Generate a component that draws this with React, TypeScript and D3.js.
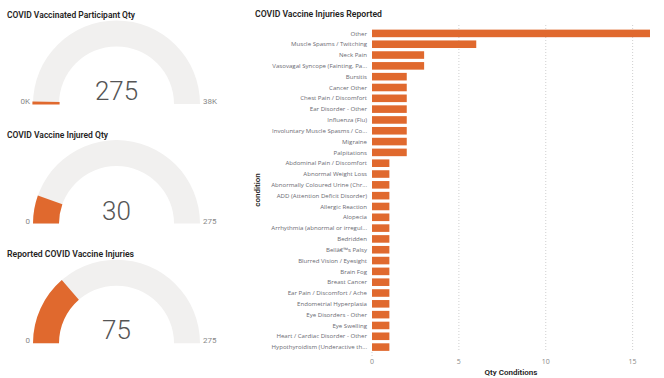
import React from "react";
import * as d3 from "d3";

const categories = [
  "Other",
  "Muscle Spasms / Twitching",
  "Neck Pain",
  "Vasovagal Syncope (Fainting, Pa...",
  "Bursitis",
  "Cancer Other",
  "Chest Pain / Discomfort",
  "Ear Disorder - Other",
  "Influenza (Flu)",
  "Involuntary Muscle Spasms / Co...",
  "Migraine",
  "Palpitations",
  "Abdominal Pain / Discomfort",
  "Abnormal Weight Loss",
  "Abnormally Coloured Urine (Chr...",
  "ADD (Attention Deficit Disorder)",
  "Allergic Reaction",
  "Alopecia",
  "Arrhythmia (abnormal or irregul...",
  "Bedridden",
  "Bellâ€™s Palsy",
  "Blurred Vision / Eyesight",
  "Brain Fog",
  "Breast Cancer",
  "Ear Pain / Discomfort / Ache",
  "Endometrial Hyperplasia",
  "Eye Disorders - Other",
  "Eye Swelling",
  "Heart / Cardiac Disorder - Other",
  "Hypothyroidism (Underactive th...",
];
const qtyConditions = [16, 6, 3, 3, 2, 2, 2, 2, 2, 2, 2, 2, 1, 1, 1, 1, 1, 1, 1, 1, 1, 1, 1, 1, 1, 1, 1, 1, 1, 1];
const xTicks = [0, 5, 10, 15];

const gaugeTitles = ["COVID Vaccinated Participant Qty", "COVID Vaccine Injured Qty", "Reported COVID Vaccine Injuries"];
const gaugeValues = [275, 30, 75];
const gaugeMins = [0, 0, 0];
const gaugeMaxs = [38000, 275, 275];
const gaugeMinLabels = ["0K", "0", "0"];
const gaugeMaxLabels = ["38K", "275", "275"];
const gaugeTitleWidths = [128, 101, 127];

const ORANGE = "#E0692E";
const TRACK = "#F1F0EF";
const TITLE_FONT = "Roboto, 'DejaVu Sans', sans-serif";

function Gauge({ i }: { i: number }) {
  const cx = 116.5;
  const cy = 104 + i * 119.6;
  const outer = 83.5;
  const inner = 57.5;
  const scale = d3.scaleLinear().domain([gaugeMins[i], gaugeMaxs[i]]).range([-Math.PI / 2, Math.PI / 2]);
  const arc = d3.arc<any>().innerRadius(inner).outerRadius(outer);
  const track = arc({ startAngle: -Math.PI / 2, endAngle: Math.PI / 2 } as any) || "";
  const val = arc({ startAngle: -Math.PI / 2, endAngle: scale(gaugeValues[i]) } as any) || "";
  return (
    <g>
      <text
        x={7}
        y={cy - 86}
        fontFamily={TITLE_FONT}
        fontWeight={600}
        fontSize={9.6}
        fill="#252423"
        textLength={gaugeTitleWidths[i]}
        lengthAdjust="spacingAndGlyphs"
      >
        {gaugeTitles[i]}
      </text>
      <g transform={`translate(${cx},${cy})`}>
        <path d={track} fill={TRACK} />
        <path d={val} fill={ORANGE} stroke={i === 0 ? ORANGE : "none"} strokeWidth={i === 0 ? 1.2 : 0} />
        <text x={0} y={-4} textAnchor="middle" fontFamily={TITLE_FONT} fontWeight={300} fontSize={26} fill="#555">
          {gaugeValues[i]}
        </text>
        <text x={-outer - 3} y={0} textAnchor="end" fontFamily={TITLE_FONT} fontSize={8} fill="#888">
          {gaugeMinLabels[i]}
        </text>
        <text x={outer + 3} y={0} textAnchor="start" fontFamily={TITLE_FONT} fontSize={8} fill="#888">
          {gaugeMaxLabels[i]}
        </text>
      </g>
    </g>
  );
}

export default function App() {
  const x = d3.scaleLinear().domain([0, 16]).range([372, 650]);
  const y = d3.scaleBand<string>().domain(categories).range([28, 352.5]).paddingInner(0.3).paddingOuter(0.15);
  const LABEL_FONT = "'Open Sans', 'DejaVu Sans', sans-serif";
  return (
    <svg width={664} height={378} style={{ position: "absolute", left: 0, top: 0, background: "#fff" }}>
      <rect width={664} height={378} fill="#fff" />
      {[0, 1, 2].map((i) => (
        <Gauge key={i} i={i} />
      ))}
      <text
        x={255}
        y={17}
        fontFamily={TITLE_FONT}
        fontWeight={600}
        fontSize={9.6}
        fill="#252423"
        textLength={127}
        lengthAdjust="spacingAndGlyphs"
      >
        COVID Vaccine Injuries Reported
      </text>
      {xTicks.map((t) => (
        <g key={t}>
          <line
            x1={x(t)}
            x2={x(t)}
            y1={t > 0 ? 25 : 352}
            y2={t > 0 ? 352 : 356}
            stroke="#CFCFCF"
            strokeWidth={1}
            strokeDasharray="1,2"
          />
          <text x={x(t)} y={364} textAnchor="middle" fontFamily={LABEL_FONT} fontSize={7} fill="#888">
            {t}
          </text>
        </g>
      ))}
      {categories.map((c, k) => (
        <g key={c}>
          <rect x={x(0)} y={y(c)} width={x(qtyConditions[k]) - x(0)} height={y.bandwidth()} fill={ORANGE} />
          <text
            x={367}
            y={(y(c) || 0) + y.bandwidth() / 2}
            dy="0.35em"
            textAnchor="end"
            fontFamily={LABEL_FONT}
            fontSize={6.1}
            fill="#6A6A72"
          >
            {c}
          </text>
        </g>
      ))}
      <text
        transform={`translate(260,190) rotate(-90)`}
        textAnchor="middle"
        fontFamily={TITLE_FONT}
        fontWeight={600}
        fontSize={8}
        fill="#252423"
      >
        condition
      </text>
      <text x={511} y={375} textAnchor="middle" fontFamily={TITLE_FONT} fontWeight={600} fontSize={8} fill="#252423">
        Qty Conditions
      </text>
    </svg>
  );
}
